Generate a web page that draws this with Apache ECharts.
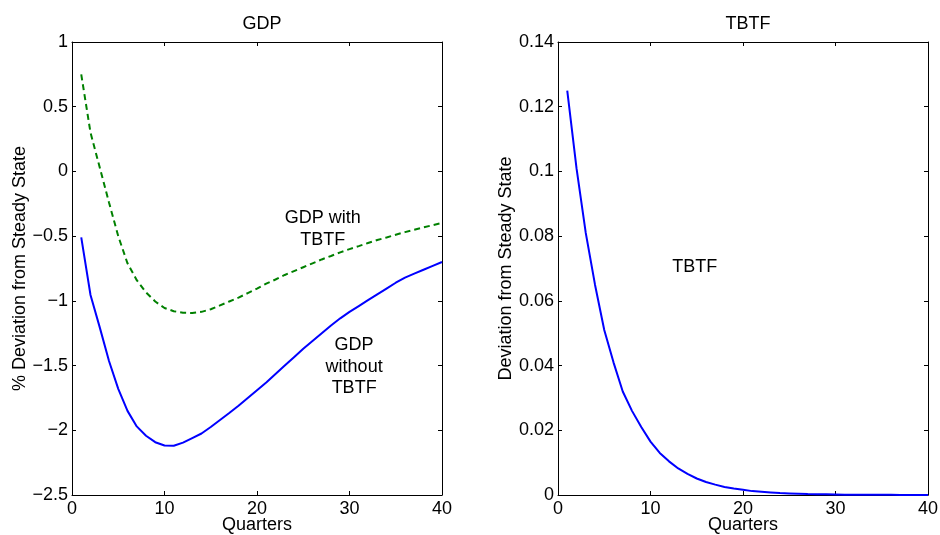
<!DOCTYPE html>
<html>
<head>
<meta charset="utf-8">
<script src="https://cdn.jsdelivr.net/npm/echarts@6/dist/echarts.min.js"></script>
<style>
  html, body { margin: 0; padding: 0; background: #fff; }
  #container { width: 940px; height: 535px; }
</style>
</head>
<body>
<div id="container"></div>
<script>
var dom = document.getElementById("container");
var myChart = echarts.init(dom);

// quarters after the shock
var quarters = [1, 2, 3, 4, 5, 6, 7, 8, 9, 10, 11, 12, 13, 14, 15, 16, 17, 18, 19, 20,
  21, 22, 23, 24, 25, 26, 27, 28, 29, 30, 31, 32, 33, 34, 35, 36, 37, 38, 39, 40];

// GDP, % deviation from steady state
var gdpWithTBTF = [0.75, 0.30, 0.03, -0.24, -0.50, -0.71, -0.84, -0.935, -1.005, -1.055,
  -1.08, -1.092, -1.094, -1.085, -1.065, -1.035, -1.005, -0.975, -0.94, -0.905,
  -0.867, -0.835, -0.80, -0.77, -0.74, -0.71, -0.68, -0.653, -0.625, -0.60,
  -0.577, -0.553, -0.53, -0.51, -0.489, -0.469, -0.45, -0.432, -0.415, -0.398];
var gdpWithoutTBTF = [-0.51, -0.955, -1.205, -1.465, -1.68, -1.85, -1.97, -2.042, -2.092, -2.118,
  -2.12, -2.095, -2.06, -2.025, -1.975, -1.92, -1.866, -1.81, -1.75, -1.69,
  -1.63, -1.565, -1.50, -1.435, -1.37, -1.31, -1.25, -1.19, -1.135, -1.085,
  -1.04, -0.995, -0.95, -0.905, -0.86, -0.82, -0.79, -0.76, -0.73, -0.70];

// TBTF, deviation from steady state
var tbtf = [0.125, 0.101, 0.081, 0.065, 0.051, 0.041, 0.032, 0.026, 0.021, 0.0165,
  0.013, 0.0104, 0.0082, 0.0065, 0.0051, 0.004, 0.0032, 0.0025, 0.002, 0.0016,
  0.0012, 0.001, 0.0008, 0.0006, 0.0005, 0.0004, 0.0003, 0.00025, 0.0002, 0.00015,
  0.0001, 0.0001, 0.00008, 0.00006, 0.00005, 0.00004, 0.00003, 0.00003, 0.00002, 0.00002];

var panelTitles = ["GDP", "TBTF"];
var yNames = ["% Deviation from Steady State", "Deviation from Steady State"];
var xName = "Quarters";

var font = "'Liberation Sans', Arial, Helvetica, sans-serif";
var ink = "#000";

function pairs(ys) {
  return quarters.map(function (q, i) { return [q, ys[i]]; });
}

function tickText(v) {
  var s = String(+v.toFixed(4));
  return s.replace("-", "\u2212");
}

// one x axis pair (bottom + top mirror) and one y axis pair (left + right mirror) per panel
function xAxes(grid) {
  var base = {
    type: "value", gridIndex: grid, min: 0, max: 40, interval: 10,
    axisLine: { show: true, onZero: false, lineStyle: { color: ink, width: 1 } },
    axisTick: { show: true, inside: true, length: 4, lineStyle: { color: ink } },
    splitLine: { show: false }
  };
  var bottom = Object.assign({}, base, {
    position: "bottom",
    name: xName, nameLocation: "middle", nameGap: 21, nameMoveOverlap: false,
    nameTextStyle: { color: ink, fontSize: 18, fontFamily: font },
    axisLabel: { color: ink, fontSize: 18, fontFamily: font, margin: 5, formatter: tickText }
  });
  var top = Object.assign({}, base, { position: "top", axisLabel: { show: false } });
  return [bottom, top];
}

function yAxes(grid, min, max, interval, name) {
  var base = {
    type: "value", gridIndex: grid, min: min, max: max, interval: interval,
    axisLine: { show: true, onZero: false, lineStyle: { color: ink, width: 1 } },
    axisTick: { show: true, inside: true, length: 4, lineStyle: { color: ink } },
    splitLine: { show: false }
  };
  var left = Object.assign({}, base, {
    position: "left",
    name: name, nameLocation: "middle", nameGap: 43, nameMoveOverlap: false,
    nameTextStyle: { color: ink, fontSize: 18, fontFamily: font },
    axisLabel: { color: ink, fontSize: 18, fontFamily: font, margin: 4, formatter: tickText }
  });
  var right = Object.assign({}, base, { position: "right", axisLabel: { show: false } });
  return [left, right];
}

function note(text, x, y) {
  return {
    coord: [x, y], symbol: "circle", symbolSize: 0,
    label: {
      show: true, position: "inside", formatter: text,
      color: ink, fontSize: 18, fontFamily: font, lineHeight: 21.5, align: "center"
    }
  };
}

var option = {
  animation: false,
  backgroundColor: "#fff",
  title: [
    { text: panelTitles[0], left: 257, top: 10, textAlign: "center",
      textStyle: { color: ink, fontSize: 18, fontWeight: "normal", fontFamily: font } },
    { text: panelTitles[1], left: 743, top: 10, textAlign: "center",
      textStyle: { color: ink, fontSize: 18, fontWeight: "normal", fontFamily: font } }
  ],
  grid: [
    { left: 72, top: 42, width: 370, height: 453, outerBoundsMode: "none", containLabel: false },
    { left: 558, top: 42, width: 370, height: 453, outerBoundsMode: "none", containLabel: false }
  ],
  xAxis: xAxes(0).concat(xAxes(1)),
  yAxis: yAxes(0, -2.5, 1, 0.5, yNames[0]).concat(yAxes(1, 0, 0.14, 0.02, yNames[1])),
  series: [
    {
      name: "GDP with TBTF", type: "line", xAxisIndex: 0, yAxisIndex: 0,
      data: pairs(gdpWithTBTF), showSymbol: false, smooth: false,
      lineStyle: { color: "#008000", width: 2, type: [6, 4] },
      markPoint: { data: [note("GDP with\nTBTF", 27.1, -0.445)] }
    },
    {
      name: "GDP without TBTF", type: "line", xAxisIndex: 0, yAxisIndex: 0,
      data: pairs(gdpWithoutTBTF), showSymbol: false, smooth: false,
      lineStyle: { color: "#0000ff", width: 2 },
      markPoint: { data: [note("GDP\nwithout\nTBTF", 30.5, -1.509)] }
    },
    {
      name: "TBTF", type: "line", xAxisIndex: 2, yAxisIndex: 2,
      data: pairs(tbtf), showSymbol: false, smooth: false,
      lineStyle: { color: "#0000ff", width: 2 },
      markPoint: { data: [note("TBTF", 14.78, 0.0705)] }
    }
  ]
};

myChart.setOption(option);
</script>
</body>
</html>
